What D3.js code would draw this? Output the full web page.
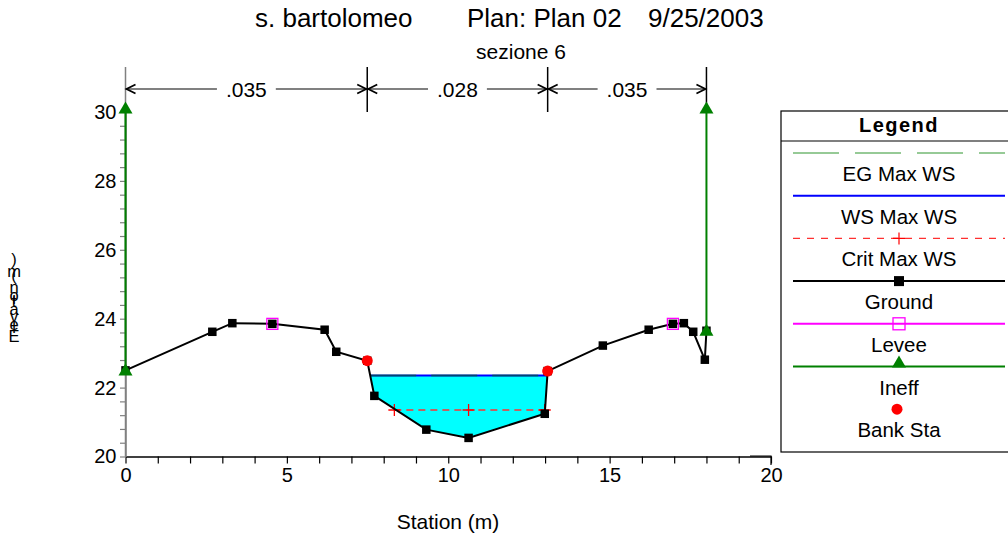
<!DOCTYPE html>
<html><head><meta charset="utf-8">
<script src="https://cdn.jsdelivr.net/npm/d3@7"></script>
<style>
html,body{margin:0;padding:0;background:#fff;}
svg{display:block;font-family:Arial,"Liberation Sans",sans-serif;}
</style></head>
<body>
<svg id="chart" width="1008" height="536"></svg>
<script>
// ---- data ----
const titleParts = ["s. bartolomeo", "Plan: Plan 02", "9/25/2003"];
const subTitle = "sezione 6";
const xLabel = "Station (m)";
const yLabel = "Elevation (m)";
const groundStation = [0, 2.69, 3.31, 4.55, 6.17, 6.53, 7.49, 7.71, 9.32, 10.63, 12.99, 13.08, 14.79, 16.21, 16.96, 17.30, 17.59, 17.95, 18.0];
const groundElev    = [22.50, 23.62, 23.87, 23.85, 23.68, 23.04, 22.78, 21.76, 20.78, 20.54, 21.24, 22.48, 23.22, 23.68, 23.85, 23.87, 23.62, 22.81, 23.65];
const wsElev = 22.35;
const egElev = 22.35;
const critStation = [8.33, 10.63, 12.99];
const critElev = 21.35;
const leveeStation = [4.55, 16.96];
const leveeElev = [23.85, 23.85];
const ineffStation = [0, 18.0];
const ineffTop = [30.1, 30.1];
const ineffBottom = [22.50, 23.65];
const bankStation = [7.49, 13.08];
const bankElev = [22.78, 22.48];
const nStations = [0, 7.49, 13.08, 18.0];
const nValues = [".035", ".028", ".035"];
const xTicks = d3.range(0, 21, 1);
const xTickLabels = ["0", "5", "10", "15", "20"];
const yTickLabels = ["20", "22", "24", "26", "28", "30"];
const legendLabels = ["EG Max WS", "WS Max WS", "Crit Max WS", "Ground", "Levee", "Ineff", "Bank Sta"];

// ---- setup ----
const svg = d3.select("#chart");
const x = d3.scaleLinear().domain([0, 20]).range([125.5, 771]);
const y = d3.scaleLinear().domain([20, 30]).range([456.5, 112]);
const FONT = 'Arial,"Liberation Sans",sans-serif';

// titles
const titleX = [255, 467, 648];
titleParts.forEach((t, i) => {
  svg.append("text").attr("x", titleX[i]).attr("y", 27).attr("font-size", 26).text(t);
});
svg.append("text").attr("x", 521).attr("y", 59).attr("text-anchor", "middle").attr("font-size", 21).text(subTitle);

// ---- water fill ----
function interpX(i, e) {
  const s0 = groundStation[i], s1 = groundStation[i + 1], e0 = groundElev[i], e1 = groundElev[i + 1];
  return s0 + (e - e0) / (e1 - e0) * (s1 - s0);
}
let li = -1, ri = -1;
for (let i = 0; i < groundStation.length - 1; i++) {
  if (li < 0 && groundElev[i] >= wsElev && groundElev[i + 1] < wsElev && groundStation[i] > 5) li = i;
  if (li >= 0 && ri < 0 && groundElev[i] < wsElev && groundElev[i + 1] >= wsElev) ri = i;
}
const wsLeft = interpX(li, wsElev), wsRight = interpX(ri, wsElev);
const waterPts = [[wsLeft, wsElev]];
for (let i = li + 1; i <= ri; i++) waterPts.push([groundStation[i], groundElev[i]]);
waterPts.push([wsRight, wsElev]);
svg.append("path").attr("d", d3.line().x(d => x(d[0])).y(d => y(d[1]))(waterPts) + "Z")
  .attr("fill", "#00ffff").attr("stroke", "none");

// ---- axes ----
const xAxis = d3.axisBottom(x).tickValues(xTicks).tickSize(7).tickSizeOuter(0)
  .tickFormat(d => d % 5 === 0 ? xTickLabels[d / 5] : "");
const gx = svg.append("g").attr("transform", `translate(0,${y(20)})`).call(xAxis);
gx.select(".domain").attr("stroke", "#000").attr("stroke-width", 1.5);
gx.selectAll(".tick line").attr("stroke", "#000").attr("stroke-width", 1.2);
gx.selectAll(".tick text").attr("font-size", 20).attr("font-family", FONT).attr("fill", "#000").attr("dy", "0.82em").attr("y", 9);

const yTickVals = d3.range(0, 26).map(i => 20 + i * 0.4);
const yAxis = d3.axisLeft(y).tickValues(yTickVals).tickSize(5.5).tickSizeOuter(0)
  .tickFormat((d, i) => i % 5 === 0 ? yTickLabels[i / 5] : "");
const gy = svg.append("g").attr("transform", `translate(${x(0)},0)`).call(yAxis);
gy.select(".domain").attr("stroke", "#808080").attr("stroke-width", 1.5);
gy.selectAll(".tick line").attr("stroke", "#808080").attr("stroke-width", 1.2);
gy.selectAll(".tick text").attr("font-size", 20).attr("font-family", FONT).attr("fill", "#000").attr("x", -9);

// axis titles
svg.append("text").attr("x", 448).attr("y", 529).attr("text-anchor", "middle").attr("font-size", 21).text(xLabel);
// y label: upright glyphs stacked bottom-to-top, in one text element
(function () {
  const meas = svg.append("text").attr("font-size", 13.8).attr("visibility", "hidden");
  const t = svg.append("text").attr("text-anchor", "middle").attr("font-size", 16.5);
  let pos = 342;
  yLabel.split("").forEach(ch => {
    t.append("tspan").attr("x", 14).attr("y", pos).text(ch === " " ? "\u00a0" : ch);
    meas.text(ch === " " ? "\u00a0" : ch);
    pos -= meas.node().getComputedTextLength();
  });
  meas.remove();
})();

// ---- Manning's n brackets ----
const nY = 89;
const nTop = 67;
svg.append("line").attr("x1", x(nStations[0])).attr("x2", x(nStations[nStations.length - 1]))
  .attr("y1", nY).attr("y2", nY).attr("stroke", "#808080").attr("stroke-width", 2);
nStations.forEach((s, i) => {
  const bottom = i === 0 ? y(20) : (i === nStations.length - 1 ? y(ineffTop[1]) : 112);
  svg.append("line").attr("x1", x(s)).attr("x2", x(s)).attr("y1", nTop).attr("y2", bottom)
    .attr("stroke", i === 0 ? "#808080" : "#000").attr("stroke-width", 1.5);
});
nValues.forEach((v, i) => {
  const x0 = x(nStations[i]), x1 = x(nStations[i + 1]);
  const cx = (x0 + x1) / 2;
  const t = svg.append("text").attr("x", cx).attr("y", nY + 7.5).attr("text-anchor", "middle").attr("font-size", 21).text(v);
  const w = t.node().getComputedTextLength();
  svg.insert("rect", () => t.node()).attr("x", cx - w / 2 - 9).attr("y", nY - 4).attr("width", w + 18).attr("height", 8).attr("fill", "#fff");
  svg.append("path").attr("d", `M${x0 + 10},${nY - 4.5}L${x0 + 1},${nY}L${x0 + 10},${nY + 4.5}`)
    .attr("fill", "none").attr("stroke", "#000").attr("stroke-width", 1.8);
  svg.append("path").attr("d", `M${x1 - 10},${nY - 4.5}L${x1 - 1},${nY}L${x1 - 10},${nY + 4.5}`)
    .attr("fill", "none").attr("stroke", "#000").attr("stroke-width", 1.8);
});

// ---- series ----
const tri = d3.symbol().type(d3.symbolTriangle).size(85);
ineffStation.forEach((s, i) => {
  svg.append("line").attr("x1", x(s)).attr("x2", x(s)).attr("y1", y(ineffBottom[i])).attr("y2", y(ineffTop[i]))
    .attr("stroke", "#008000").attr("stroke-width", 2);
});

svg.append("line").attr("x1", x(wsLeft)).attr("x2", x(wsRight)).attr("y1", y(wsElev)).attr("y2", y(wsElev))
  .attr("stroke", "#0000ff").attr("stroke-width", 2);
svg.append("line").attr("x1", x(wsLeft)).attr("x2", x(wsRight)).attr("y1", y(egElev)).attr("y2", y(egElev))
  .attr("stroke", "#008000").attr("stroke-opacity", 0.55).attr("stroke-width", 2).attr("stroke-dasharray", "46,15");

svg.append("line").attr("x1", x(critStation[0])).attr("x2", x(critStation[critStation.length - 1]))
  .attr("y1", y(critElev)).attr("y2", y(critElev)).attr("stroke", "#ff3030").attr("stroke-width", 1.3).attr("stroke-dasharray", "7,5");
critStation.forEach(s => {
  svg.append("path").attr("d", `M${x(s) - 6},${y(critElev)}h12M${x(s)},${y(critElev) - 6}v12`).attr("stroke", "#ff0000").attr("stroke-width", 1.3);
});

const gpts = groundStation.map((s, i) => [s, groundElev[i]]);
svg.append("path").attr("d", d3.line().x(d => x(d[0])).y(d => y(d[1]))(gpts))
  .attr("fill", "none").attr("stroke", "#000").attr("stroke-width", 2);
gpts.forEach(d => {
  svg.append("rect").attr("x", x(d[0]) - 4.25).attr("y", y(d[1]) - 4.25).attr("width", 8.5).attr("height", 8.5).attr("fill", "#000");
});
leveeStation.forEach((s, i) => {
  svg.append("rect").attr("x", x(s) - 5.5).attr("y", y(leveeElev[i]) - 5.5).attr("width", 11).attr("height", 11)
    .attr("fill", "none").attr("stroke", "#ff00ff").attr("stroke-width", 1.3);
});
ineffStation.forEach((s, i) => {
  [ineffBottom[i], ineffTop[i]].forEach(e => {
    svg.append("path").attr("d", tri()).attr("transform", `translate(${x(s)},${y(e) + 1})`).attr("fill", "#008000");
  });
});
bankStation.forEach((s, i) => {
  svg.append("circle").attr("cx", x(s)).attr("cy", y(bankElev[i])).attr("r", 5.5).attr("fill", "#ff0000");
});

// ---- legend ----
const lg = svg.append("g");
const L = {x: 781, y: 111, w: 236, h: 341, cx: 899, x1: 793, x2: 1005};
lg.append("rect").attr("x", L.x).attr("y", L.y).attr("width", L.w).attr("height", L.h).attr("fill", "#fff").attr("stroke", "#000").attr("stroke-width", 1.2);
lg.append("line").attr("x1", L.x).attr("x2", L.x + L.w).attr("y1", 141).attr("y2", 141).attr("stroke", "#000").attr("stroke-width", 1.2);
lg.append("text").attr("x", L.cx).attr("y", 132).attr("text-anchor", "middle").attr("font-size", 20).attr("font-weight", "bold").attr("letter-spacing", 1.5).text("Legend");
legendLabels.forEach((lab, i) => {
  const ly = 153 + i * 42.7;
  lg.append("text").attr("x", L.cx).attr("y", ly + 28).attr("text-anchor", "middle").attr("font-size", 20.5).text(lab);
  const line = (attrs) => {
    const l = lg.append("line").attr("x1", L.x1).attr("x2", L.x2).attr("y1", ly).attr("y2", ly);
    Object.entries(attrs).forEach(([k, v]) => l.attr(k, v));
  };
  if (i === 0) line({stroke: "#008000", "stroke-opacity": 0.55, "stroke-width": 1.5, "stroke-dasharray": "46,16"});
  if (i === 1) line({stroke: "#0000ff", "stroke-width": 2});
  if (i === 2) {
    line({stroke: "#ff3030", "stroke-width": 1.2, "stroke-dasharray": "7,7"});
    lg.append("path").attr("d", `M${L.cx - 6},${ly}h12M${L.cx},${ly - 6}v12`).attr("stroke", "#ff0000").attr("stroke-width", 1.2);
  }
  if (i === 3) {
    line({stroke: "#000", "stroke-width": 2});
    lg.append("rect").attr("x", L.cx - 5).attr("y", ly - 5).attr("width", 10).attr("height", 10).attr("fill", "#000");
  }
  if (i === 4) {
    line({stroke: "#ff00ff", "stroke-width": 2});
    lg.append("rect").attr("x", L.cx - 6).attr("y", ly - 6).attr("width", 12).attr("height", 12).attr("fill", "none").attr("stroke", "#ff00ff").attr("stroke-width", 1.3);
  }
  if (i === 5) {
    line({stroke: "#008000", "stroke-width": 2});
    lg.append("path").attr("d", tri()).attr("transform", `translate(${L.cx},${ly - 3})`).attr("fill", "#008000");
  }
  if (i === 6) {
    lg.append("circle").attr("cx", L.cx - 2).attr("cy", ly).attr("r", 5.5).attr("fill", "#ff0000");
  }
});
svg.append("path").attr("d", "M750,456H771V465").attr("fill", "none").attr("stroke", "#000").attr("stroke-width", 1.2);
</script>
</body></html>
